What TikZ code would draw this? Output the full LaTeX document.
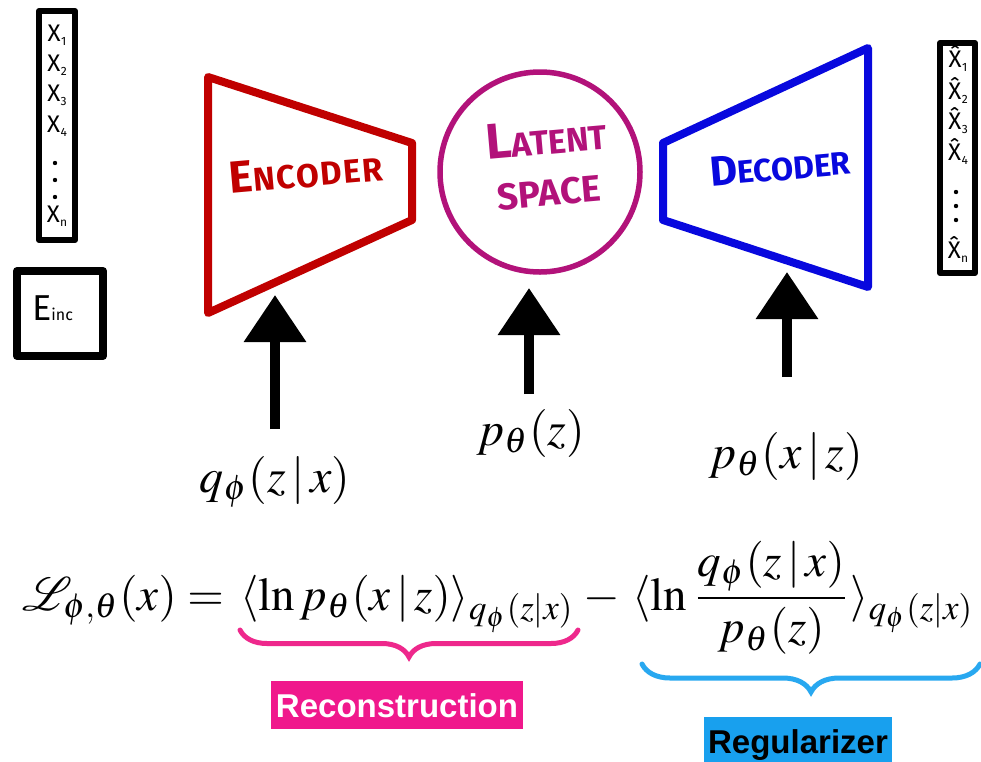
\documentclass[tikz,border=0pt]{standalone}
\usepackage{mathptmx}
\usepackage{mathrsfs}
\usepackage{graphicx}
\usepackage[no-math]{fontspec}
\newfontfamily\handfont{Fira Sans}
\newfontfamily\labfont{Liberation Sans}
\usetikzlibrary{arrows.meta,decorations.pathreplacing}
\definecolor{encred}{RGB}{192,0,0}
\definecolor{latmag}{RGB}{178,18,122}
\definecolor{decblue}{RGB}{8,8,222}
\definecolor{bracepink}{RGB}{238,40,140}
\definecolor{boxpink}{RGB}{240,24,140}
\definecolor{braceblue}{RGB}{40,168,240}
\definecolor{boxblue}{RGB}{24,160,238}
\newcommand{\eqs}[1]{\scalebox{4.7}{$#1$}}
\newcommand{\eqd}[1]{\scalebox{4.7}{$\displaystyle #1$}}
\newcommand{\lbs}[1]{\scalebox{4.8}{$#1$}}
\newcommand{\fsz}[1]{\fontsize{#1}{#1}\selectfont}
\newcommand{\xs}[2]{#1\kern0.5pt\raisebox{-4pt}{\fsz{12}#2}}
\begin{document}
\begin{tikzpicture}[x=1pt,y=-1pt,
  trap/.style={line width=8pt,line join=round},
  inbox/.style={draw=black,line width=6pt,line join=round},
  upar/.style={line width=10pt,-{Triangle[width=60pt,length=47pt]}},
  hand/.style={inner sep=0pt,font=\handfont\bfseries},
  xlab/.style={inner sep=0pt,anchor=base,font=\handfont\fsz{24}},
  eq/.style={inner sep=0pt},
  pbrace/.style={draw=bracepink,line width=5pt,line cap=round,decorate,decoration={brace,amplitude=27pt}},
  bbrace/.style={draw=braceblue,line width=5pt,line cap=round,decorate,decoration={brace,amplitude=28pt}},
  recbox/.style={fill=boxpink,text=white,font=\labfont\bfseries\fsz{33},inner xsep=5pt,inner ysep=0pt,text height=36pt,text depth=12pt,anchor=base},
  regbox/.style={fill=boxblue,text=black,font=\labfont\bfseries\fsz{33},inner xsep=4.5pt,inner ysep=0pt,text height=36pt,text depth=20pt,anchor=base}
]
\useasboundingbox (0,0) rectangle (981,761);
\fill[white] (0,0) rectangle (981,761);

% input vector box
\draw[inbox] (39,11) rectangle (75,240);
\node[xlab] (x1) at (57,41) {\xs{X}{1}};
\node[xlab] (x2) at (57,71) {\xs{X}{2}};
\node[xlab] (x3) at (57,101) {\xs{X}{3}};
\node[xlab] (x4) at (57,132) {\xs{X}{4}};
\fill (55,163) circle (2.2);
\fill (55,180) circle (2.2);
\fill (55,197) circle (2.2);
\node[xlab] (xn) at (57,222) {\xs{X}{n}};

% E_inc box
\draw[line width=8pt,line join=round] (17,271) rectangle (103,356);
\node[inner sep=0pt,anchor=base west,font=\handfont] (einc) at (32,320) {{\fsz{36}E}{\fsz{16}inc}};

% output vector box
\draw[inbox] (940,43) rectangle (975,273);
\node[xlab] (h1) at (958,67) {\xs{\^X}{1}};
\node[xlab] (h2) at (958,99) {\xs{\^X}{2}};
\node[xlab] (h3) at (958,129) {\xs{\^X}{3}};
\node[xlab] (h4) at (958,160) {\xs{\^X}{4}};
\fill (956,192) circle (2.2);
\fill (956,206) circle (2.2);
\fill (956,220) circle (2.2);
\node[xlab] (hn) at (958,258) {\xs{\^X}{n}};

% encoder
\draw[trap,draw=encred] (208,77) -- (412,143) -- (412,220) -- (208,313) -- cycle;
\node[hand,text=encred,rotate=5] (enctxt) at (306,172) {\addfontfeature{LetterSpace=5}{\fsz{45}E}{\fsz{33}NCODER}};

% latent space
\draw[latmag,line width=5.5pt] (540,172) circle (100);
\node[hand,text=latmag,rotate=5] (lattxt) at (546,137) {{\fsz{50}L}{\fsz{34}ATENT}};
\node[hand,text=latmag,rotate=5] (spctxt) at (549,193) {\fsz{37}SPACE};

% decoder
\draw[trap,draw=decblue] (663,143) -- (868,48) -- (868,287) -- (663,220) -- cycle;
\node[hand,text=decblue,rotate=5] (dectxt) at (780,166) {{\fsz{42}D}{\fsz{32}ECODER}};

% arrows and labels
\coordinate (encin) at (275,295);
\coordinate (qtop) at (275,429);
\coordinate (latin) at (529,288);
\coordinate (ptop) at (529,394);
\coordinate (decin) at (787,272);
\coordinate (pxtop) at (787,377);
\draw[upar] (qtop) -- (encin);
\draw[upar] (ptop) -- (latin);
\draw[upar] (pxtop) -- (decin);
\node[eq,anchor=base] (lq) at (275,492) {\lbs{q_\phi(z\,|\,x)}};
\node[eq,anchor=base] (lpz) at (531,445) {\lbs{p_\theta(z)}};
\node[eq,anchor=base] (lpxz) at (786,468) {\lbs{p_\theta(x\,|\,z)}};

% ELBO equation
\node[eq,anchor=base west] (lhs) at (22,610) {\eqs{\mathscr{L}_{\phi,\theta}(x) =}};
\node[eq,anchor=base west] (rec) at (240,610) {\eqs{\langle \ln p_\theta(x\,|\,z)\rangle_{q_\phi(z|x)}}};
\node[eq,anchor=base] (minus) at (602,610) {\eqs{-}};
\node[eq,anchor=base west] (reg) at (632,610) {\eqd{\langle \ln \frac{q_\phi(z\,|\,x)}{p_\theta(z)}\rangle_{q_\phi(z|x)}}};

% braces
\coordinate (pbl) at (240,630);
\coordinate (pbr) at (578,630);
\coordinate (bbl) at (642,664);
\coordinate (bbr) at (980,664);
\draw[pbrace] (pbr) -- (pbl);
\draw[bbrace] (bbr) -- (bbl);

\node[recbox] (reclab) at (397,717) {Reconstruction};
\node[regbox] (reglab) at (798,753) {Regularizer};
\end{tikzpicture}
\end{document}
